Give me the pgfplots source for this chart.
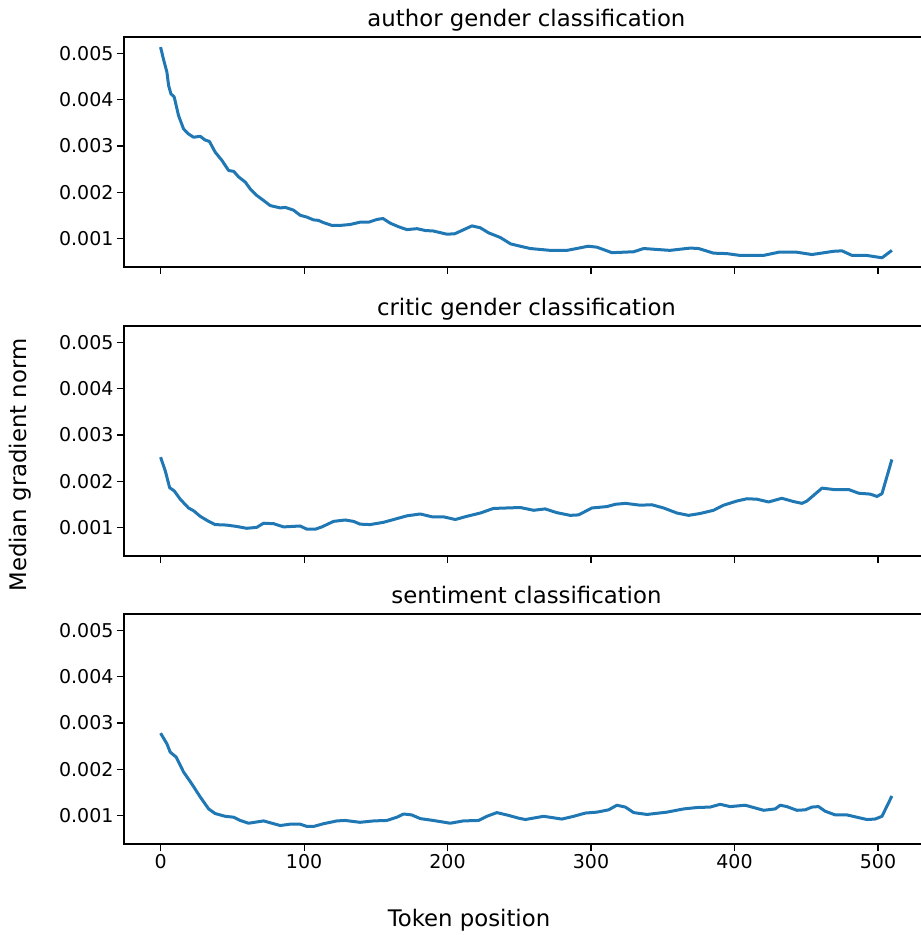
\documentclass[border=0pt]{standalone}
\usepackage{fontspec}
\setmainfont{DejaVu Sans}
\usepackage{pgfplots}
\pgfplotsset{compat=1.18}
\definecolor{tabblue}{RGB}{31,119,180}
\pgfplotsset{
  panel/.style={
    scale only axis, width=804.9pt, height=230pt,
    xmin=-25.5, xmax=535.5, ymin=0.00038, ymax=0.00536,
    xtick={0,100,200,300,400,500},
    ytick={0.001,0.002,0.003,0.004,0.005},
    scaled y ticks=false,
    yticklabel style={/pgf/number format/fixed,/pgf/number format/fixed zerofill,/pgf/number format/precision=3},
    /pgf/number format/assume math mode=true,
    tick align=outside, major tick length=7pt,
    xtick pos=bottom, ytick pos=left,
    every tick/.style={black, line width=1.1pt},
    axis line style={line width=1.1pt},
    tick label style={font=\fontsize{19}{22}\selectfont},
    every axis title/.style={at={(0.5,1)}, anchor=base, yshift=11pt, font=\fontsize{22.8}{26}\selectfont},
  },
  curve/.style={tabblue, line width=3pt, line join=round, no marks},
}
\begin{document}
\begin{tikzpicture}
\path[use as bounding box] (0,0) rectangle (921pt,-935pt);

% author gender
\begin{axis}[panel, at={(124pt,-267pt)}, anchor=south west,
  title={author gender classification}, xticklabels={}]
\addplot[curve] coordinates {
(0,0.00514)(2,0.00488)(4.4,0.00460)(5.6,0.00431)(7.2,0.00413)(9.5,0.00406)(12.5,0.00366)(16,0.00337)
(19.5,0.00326)(23,0.00319)(27.6,0.00321)(31,0.00313)(34,0.00310)(38,0.00287)(42.7,0.00269)(47.4,0.00247)
(51,0.00245)(54.4,0.00233)(59,0.00222)(62.5,0.00207)(67,0.00193)(71.8,0.00182)(76.4,0.00171)(83.4,0.00166)
(87,0.00167)(92.7,0.00161)(97.3,0.00150)(102,0.00146)(106.6,0.00140)(110,0.00139)(113.6,0.00134)(119.4,0.00128)
(125,0.00128)(132,0.00130)(139,0.00135)(145,0.00135)(150.8,0.00141)(155,0.00143)(160,0.00133)(166,0.00125)
(171.7,0.00119)(178.7,0.00121)(184.5,0.00117)(190,0.00116)(199.6,0.00109)(205,0.00110)(210,0.00117)(217,0.00127)
(222.8,0.00123)(228.6,0.00112)(236.7,0.00102)(244,0.00088)(250.7,0.00083)(257.7,0.00078)(271.6,0.00074)(283.2,0.00074)
(290,0.00078)(298,0.00083)(304,0.00081)(314.6,0.00069)(329.7,0.00071)(336.7,0.00078)(355,0.00074)(369.2,0.00079)
(375,0.00078)(385.4,0.00068)(394.7,0.00067)(404,0.00063)(420,0.00063)(430.8,0.00070)(443.5,0.00070)(454,0.00065)
(469,0.00072)(474.9,0.00073)(482,0.00063)(492.3,0.00063)(502.8,0.00058)(509.7,0.00074)
};
\end{axis}

% critic gender
\begin{axis}[panel, at={(124pt,-556pt)}, anchor=south west,
  title={critic gender classification}, xticklabels={}]
\addplot[curve] coordinates {
(0,0.00252)(3.3,0.00222)(6.3,0.00186)(9.5,0.00179)(13.7,0.00161)(19.5,0.00142)(23,0.00136)(27.6,0.00124)
(33.5,0.00113)(38,0.00106)(46,0.00105)(53,0.00102)(60,0.00098)(67,0.00100)(71.8,0.00109)(78.8,0.00108)
(85.7,0.00101)(97.3,0.00103)(102,0.00096)(107.8,0.00096)(112.4,0.00101)(120.6,0.00113)(128.7,0.00116)(134.5,0.00113)
(139,0.00107)(146,0.00106)(155.4,0.00111)(162.4,0.00117)(171.7,0.00125)(181,0.00129)(189,0.00123)(197,0.00123)
(205.4,0.00117)(213.5,0.00124)(222.8,0.00131)(232,0.00141)(241.4,0.00142)(250.7,0.00143)(260,0.00137)(268,0.00140)
(276,0.00132)(285.5,0.00126)(291.3,0.00127)(300.6,0.00142)(311,0.00145)(317,0.00150)(324,0.00152)(334.3,0.00148)
(342.4,0.00149)(350.6,0.00142)(359.9,0.00131)(368,0.00126)(376,0.00130)(385.4,0.00137)(392.4,0.00148)(401.6,0.00157)
(408.7,0.00162)(415.6,0.00161)(423.8,0.00155)(433,0.00163)(441,0.00156)(447,0.00152)(450.5,0.00157)(461,0.00185)
(469,0.00182)(479.5,0.00182)(486.5,0.00174)(494.6,0.00172)(499.3,0.00167)(502.8,0.00173)(509.7,0.00247)
};
\end{axis}

% sentiment
\begin{axis}[panel, at={(124pt,-844pt)}, anchor=south west,
  title={sentiment classification}]
\addplot[curve] coordinates {
(0,0.00278)(4.4,0.00255)(6.7,0.00237)(10.9,0.00226)(16,0.00194)(21.8,0.00168)(27.6,0.00140)(33.5,0.00114)
(38,0.00104)(45,0.00098)(51,0.00096)(55.5,0.00089)(61.3,0.00083)(71.8,0.00088)(83.4,0.00078)(90.4,0.00081)
(97.3,0.00081)(102,0.00076)(106.6,0.00076)(113.6,0.00082)(122.9,0.00088)(128.7,0.00089)(139,0.00085)(148.5,0.00088)
(157.7,0.00089)(164.7,0.00096)(169.4,0.00103)(175,0.00101)(181,0.00093)(190,0.00089)(201.9,0.00083)(211,0.00088)
(221.6,0.00089)(227.4,0.00098)(234.4,0.00106)(242.5,0.00100)(249.5,0.00094)(254.2,0.00091)(267,0.00098)(279.7,0.00092)
(287.9,0.00098)(296,0.00105)(304.1,0.00107)(312.3,0.00112)(318,0.00122)(323.9,0.00118)(329.7,0.00106)(339,0.00102)
(352.9,0.00107)(364.6,0.00114)(373.8,0.00117)(383.1,0.00118)(390,0.00124)(397,0.00119)(407.5,0.00122)(413.3,0.00117)
(420.3,0.00111)(428.4,0.00114)(431.9,0.00122)(436.5,0.00119)(443.5,0.00111)(449.3,0.00112)(454,0.00118)(458.6,0.00119)
(463.2,0.00109)(470.2,0.00101)(478.4,0.00101)(485.3,0.00096)(492.3,0.00091)(498,0.00092)(502.8,0.00098)(509.7,0.00142)
};
\end{axis}

\node[font=\fontsize{22.8}{26}\selectfont] at (469pt,-920pt) {Token position};
\node[font=\fontsize{22.8}{26}\selectfont, rotate=90] at (20pt,-465pt) {Median gradient norm};
\end{tikzpicture}
\end{document}
